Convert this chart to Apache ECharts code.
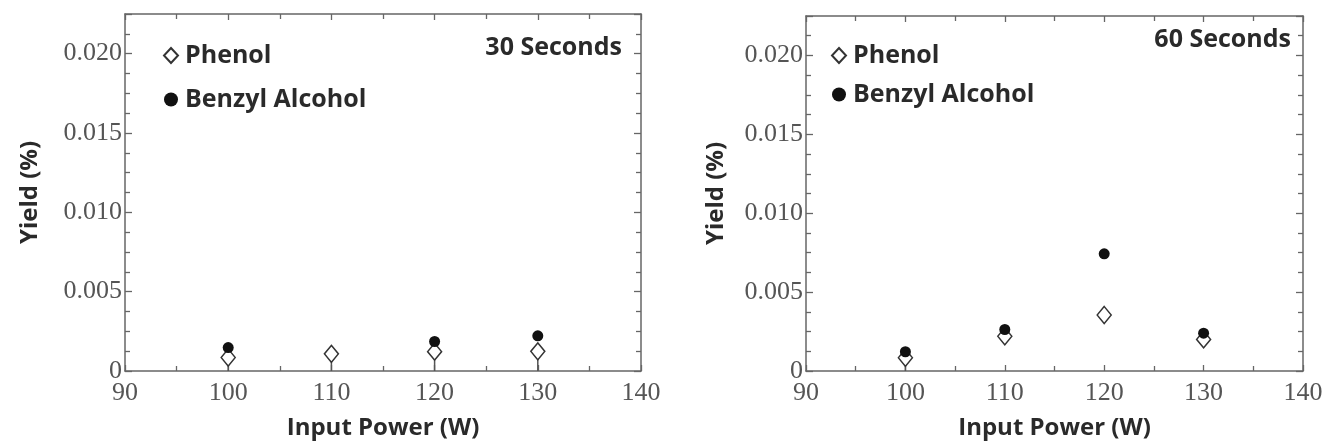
<!DOCTYPE html>
<html>
<head>
<meta charset="utf-8">
<script src="https://cdn.jsdelivr.net/npm/echarts@6/dist/echarts.min.js"></script>
<style>
  html, body { margin: 0; padding: 0; background: #fff; }
  #main { width: 1331px; height: 445px; }
</style>
</head>
<body>
<div id="main"></div>
<script>
// data
var power = [100, 110, 120, 130];
var phenol30 = [0.00085, 0.00108, 0.00122, 0.00124];
var benzyl30 = [0.00148, null, 0.00186, 0.00222];
var phenol60 = [0.00084, 0.0022, 0.00355, 0.002];
var benzyl60 = [0.00122, 0.00263, 0.00743, 0.0024];
var panelTitles = ['30 Seconds', '60 Seconds'];

var frame = '#666';
var sansBold = { fontFamily: '"Open Sans", "DejaVu Sans", sans-serif', fontWeight: 'bold', color: '#2a2a2a' };

function pairs(ys) {
  return power.map(function(x, i) { return [x, ys[i]]; }).filter(function(p) { return p[1] != null; });
}

function xAx(grid, pos) {
  return {
    type: 'value', gridIndex: grid, position: pos, min: 90, max: 140, interval: 10,
    name: pos === 'bottom' ? 'Input Power (W)' : '',
    nameLocation: 'middle', nameGap: 45,
    nameTextStyle: Object.assign({ fontSize: 24 }, sansBold),
    axisLine: { show: true, onZero: false, lineStyle: { color: frame, width: 1.5 } },
    axisTick: { show: true, inside: true, length: 6, lineStyle: { color: frame, width: 1.3 } },
    minorTick: { show: true, splitNumber: 2, length: 5, lineStyle: { color: frame, width: 1.3 } },
    axisLabel: { show: pos === 'bottom', fontFamily: '"Liberation Serif", serif', fontSize: 26, color: '#555', margin: 9 },
    splitLine: { show: false }
  };
}

function yAx(grid, pos) {
  return {
    type: 'value', gridIndex: grid, position: pos, min: 0, max: 0.0225, interval: 0.005,
    name: pos === 'left' ? 'Yield (%)' : '',
    nameLocation: 'middle', nameGap: grid === 0 ? 83 : 78, nameRotate: 90,
    nameTextStyle: Object.assign({ fontSize: 24 }, sansBold),
    axisLine: { show: true, onZero: false, lineStyle: { color: frame, width: 1.5 } },
    axisTick: { show: true, inside: true, length: 7, lineStyle: { color: frame, width: 1.3 } },
    minorTick: { show: true, splitNumber: 4, length: 5, lineStyle: { color: frame, width: 1.3 } },
    axisLabel: {
      show: pos === 'left', fontFamily: '"Liberation Serif", serif', fontSize: 26, color: '#555', margin: 3,
      formatter: function(v) { return v === 0 ? '0' : (v > 0.0201 ? '' : v.toFixed(3)); }
    },
    splitLine: { show: false }
  };
}

function stems(grid, ys) {
  return {
    type: 'custom', xAxisIndex: grid * 2, yAxisIndex: grid * 2, z: 1, silent: true,
    data: pairs(ys),
    renderItem: function(params, api) {
      var a = api.coord([api.value(0), 0]);
      var b = api.coord([api.value(0), api.value(1)]);
      return { type: 'line', shape: { x1: a[0], y1: a[1], x2: b[0], y2: b[1] }, style: { stroke: '#555', lineWidth: 1.5 } };
    }
  };
}

function phenolSeries(grid, ys) {
  return {
    name: 'Phenol', type: 'scatter', xAxisIndex: grid * 2, yAxisIndex: grid * 2, z: 3,
    symbol: 'diamond', symbolSize: [14, 17],
    itemStyle: { color: '#fff', borderColor: '#333', borderWidth: 1.5, opacity: 1 },
    data: pairs(ys)
  };
}

function benzylSeries(grid, ys) {
  return {
    name: 'Benzyl Alcohol', type: 'scatter', xAxisIndex: grid * 2, yAxisIndex: grid * 2, z: 4,
    symbol: 'circle', symbolSize: 11,
    itemStyle: { color: '#111', opacity: 1 },
    data: pairs(ys)
  };
}

function legend(left, top, gap) {
  return {
    orient: 'vertical', left: left, top: top, itemGap: gap, itemWidth: 14, itemHeight: 15,
    selectedMode: false,
    textStyle: Object.assign({ fontSize: 25, padding: [0, 0, 0, 2] }, sansBold),
    data: ['Phenol', 'Benzyl Alcohol']
  };
}

var myChart = echarts.init(document.getElementById('main'));
var option = {
  animation: false,
  grid: [
    { left: 125, top: 14, width: 516, height: 362 },
    { left: 806, top: 16, width: 497, height: 360 }
  ],
  xAxis: [xAx(0, 'bottom'), xAx(0, 'top'), xAx(1, 'bottom'), xAx(1, 'top')],
  yAxis: [yAx(0, 'left'), yAx(0, 'right'), yAx(1, 'left'), yAx(1, 'right')],
  legend: [legend(158, 38, 19), legend(826, 38, 14)],
  graphic: [
    { type: 'text', right: 709, top: 35, style: { text: panelTitles[0], font: 'bold 25px "Open Sans", sans-serif', fill: '#2a2a2a' } },
    { type: 'text', right: 40, top: 27, style: { text: panelTitles[1], font: 'bold 25px "Open Sans", sans-serif', fill: '#2a2a2a' } }
  ],
  series: [
    stems(0, phenol30),
    phenolSeries(0, phenol30),
    benzylSeries(0, benzyl30),
    stems(1, [phenol60[0], null, null, null]),
    phenolSeries(1, phenol60),
    benzylSeries(1, benzyl60)
  ]
};
myChart.setOption(option);
</script>
</body>
</html>
